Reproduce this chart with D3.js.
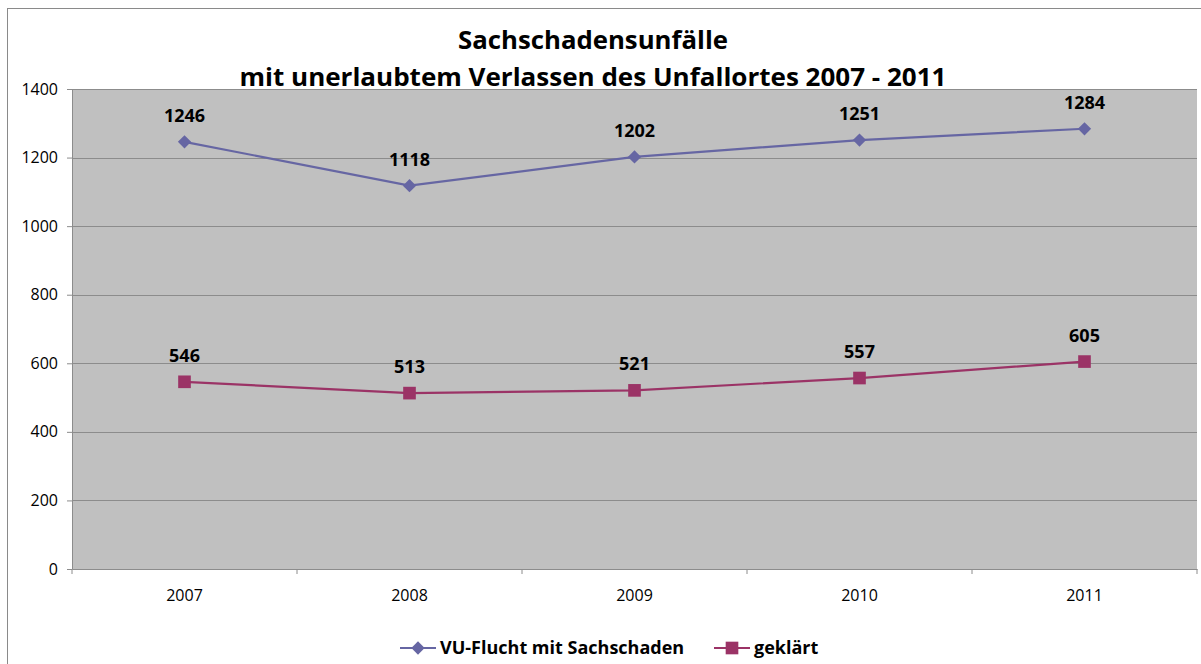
<!DOCTYPE html>
<html>
<head>
<meta charset="utf-8">
<script src="https://cdn.jsdelivr.net/npm/d3@7"></script>
<style>
  body { margin: 0; background: #fff; }
  svg { display: block; }
  svg text { font-family: "Open Sans", "DejaVu Sans", sans-serif; }
</style>
</head>
<body>
<div id="chart"></div>
<script>
// Sachschadensunfälle mit unerlaubtem Verlassen des Unfallortes 2007 - 2011

const years = ["2007", "2008", "2009", "2010", "2011"];
const flucht = [1246, 1118, 1202, 1251, 1284];
const geklaert = [546, 513, 521, 557, 605];
const yTicks = [0, 200, 400, 600, 800, 1000, 1200, 1400];
const seriesNames = ["VU-Flucht mit Sachschaden", "geklärt"];

const width = 1201, height = 664;
const margin = { top: 89, right: 4, bottom: 95, left: 72 };
const innerWidth = width - margin.left - margin.right;
const innerHeight = height - margin.top - margin.bottom;

const svg = d3.select("#chart")
    .append("svg")
    .attr("width", width)
    .attr("height", height);

// outer chart border
svg.append("rect")
    .attr("x", 7.5).attr("y", 8.5)
    .attr("width", width + 10).attr("height", height + 10)
    .attr("fill", "none")
    .attr("stroke", "#8a8a8a");

// Title
const title = svg.append("text")
    .attr("text-anchor", "middle")
    .attr("font-weight", "bold")
    .attr("font-size", "25px")
    .attr("fill", "#000");
title.append("tspan").attr("x", 593).attr("y", 49)
    .attr("textLength", 270).attr("lengthAdjust", "spacingAndGlyphs")
    .text("Sachschadensunfälle");
title.append("tspan").attr("x", 593).attr("y", 86)
    .attr("textLength", 707).attr("lengthAdjust", "spacingAndGlyphs")
    .text("mit unerlaubtem Verlassen des Unfallortes 2007 - 2011");

const g = svg.append("g")
    .attr("transform", `translate(${margin.left},${margin.top})`);

// Scales
const x = d3.scaleBand().domain(years).range([0, innerWidth]);
const y = d3.scaleLinear().domain([0, 1400]).range([innerHeight, 0]);
const cx = d => x(d) + x.bandwidth() / 2;

// Plot area
g.append("rect")
    .attr("width", innerWidth)
    .attr("height", innerHeight)
    .attr("fill", "#c0c0c0");

// Gridlines
g.selectAll(".grid")
    .data(yTicks.filter(t => t > 0))
    .enter().append("line")
    .attr("x1", 0).attr("x2", innerWidth)
    .attr("y1", d => Math.round(y(d)) + 0.5)
    .attr("y2", d => Math.round(y(d)) + 0.5)
    .attr("stroke", "#8c8c8c");

// Y axis
const yAxis = g.append("g")
    .call(d3.axisLeft(y).tickValues(yTicks).tickSize(5).tickPadding(9).tickFormat(d3.format("d")));
yAxis.attr("font-family", null).attr("font-size", 16);
yAxis.select(".domain").attr("stroke", "#8c8c8c");
yAxis.selectAll(".tick line").attr("stroke", "#8c8c8c");
yAxis.selectAll("text").style("font-size", "16px").attr("fill", "#000");

// X axis
const xAxis = g.append("g")
    .attr("transform", `translate(0,${innerHeight})`)
    .call(d3.axisBottom(x).tickSize(0).tickPadding(21));
xAxis.attr("font-family", null).attr("font-size", 16);
xAxis.select(".domain").attr("stroke", "#8c8c8c");
xAxis.selectAll("text").style("font-size", "16px").attr("fill", "#000");
// ticks between categories
xAxis.selectAll(".sep")
    .data(d3.range(years.length + 1))
    .enter().append("line")
    .attr("x1", i => i * x.bandwidth())
    .attr("x2", i => i * x.bandwidth())
    .attr("y1", 0).attr("y2", 5)
    .attr("stroke", "#8c8c8c");

const diamond = d3.symbol().type(d3.symbolSquare).size(88);
const square = d3.symbol().type(d3.symbolSquare).size(160);

const series = [
    { name: seriesNames[0], values: flucht, color: "#6666a3", path: diamond, rot: 45 },
    { name: seriesNames[1], values: geklaert, color: "#9b3366", path: square, rot: 0 }
];

const line = d3.line()
    .x((d, i) => cx(years[i]))
    .y(d => y(d));

series.forEach(s => {
    g.append("path")
        .datum(s.values)
        .attr("d", line)
        .attr("fill", "none")
        .attr("stroke", s.color)
        .attr("stroke-width", 2.2);

    g.selectAll(null)
        .data(s.values)
        .enter().append("path")
        .attr("transform", (d, i) => `translate(${cx(years[i])},${y(d)}) rotate(${s.rot})`)
        .attr("d", s.path)
        .attr("fill", s.color);

    g.selectAll(null)
        .data(s.values)
        .enter().append("text")
        .attr("x", (d, i) => cx(years[i]))
        .attr("y", d => y(d) - 20)
        .attr("text-anchor", "middle")
        .attr("font-weight", "bold")
        .attr("font-size", "18px")
        .attr("fill", "#000")
        .text(d => d);
});

// Legend
const legend = svg.append("g").attr("transform", "translate(400,648)");
const legendX = [0, 314];
series.forEach((s, i) => {
    const lg = legend.append("g").attr("transform", `translate(${legendX[i]},0)`);
    lg.append("line")
        .attr("x1", 0).attr("x2", 36)
        .attr("y1", 0).attr("y2", 0)
        .attr("stroke", s.color)
        .attr("stroke-width", 2.2);
    lg.append("path")
        .attr("transform", `translate(18,0) rotate(${s.rot})`)
        .attr("d", s.path)
        .attr("fill", s.color);
    lg.append("text")
        .attr("x", 40).attr("y", 6)
        .attr("font-weight", "bold")
        .attr("font-size", "18px")
        .attr("fill", "#000")
        .text(s.name);
});
</script>
</body>
</html>
